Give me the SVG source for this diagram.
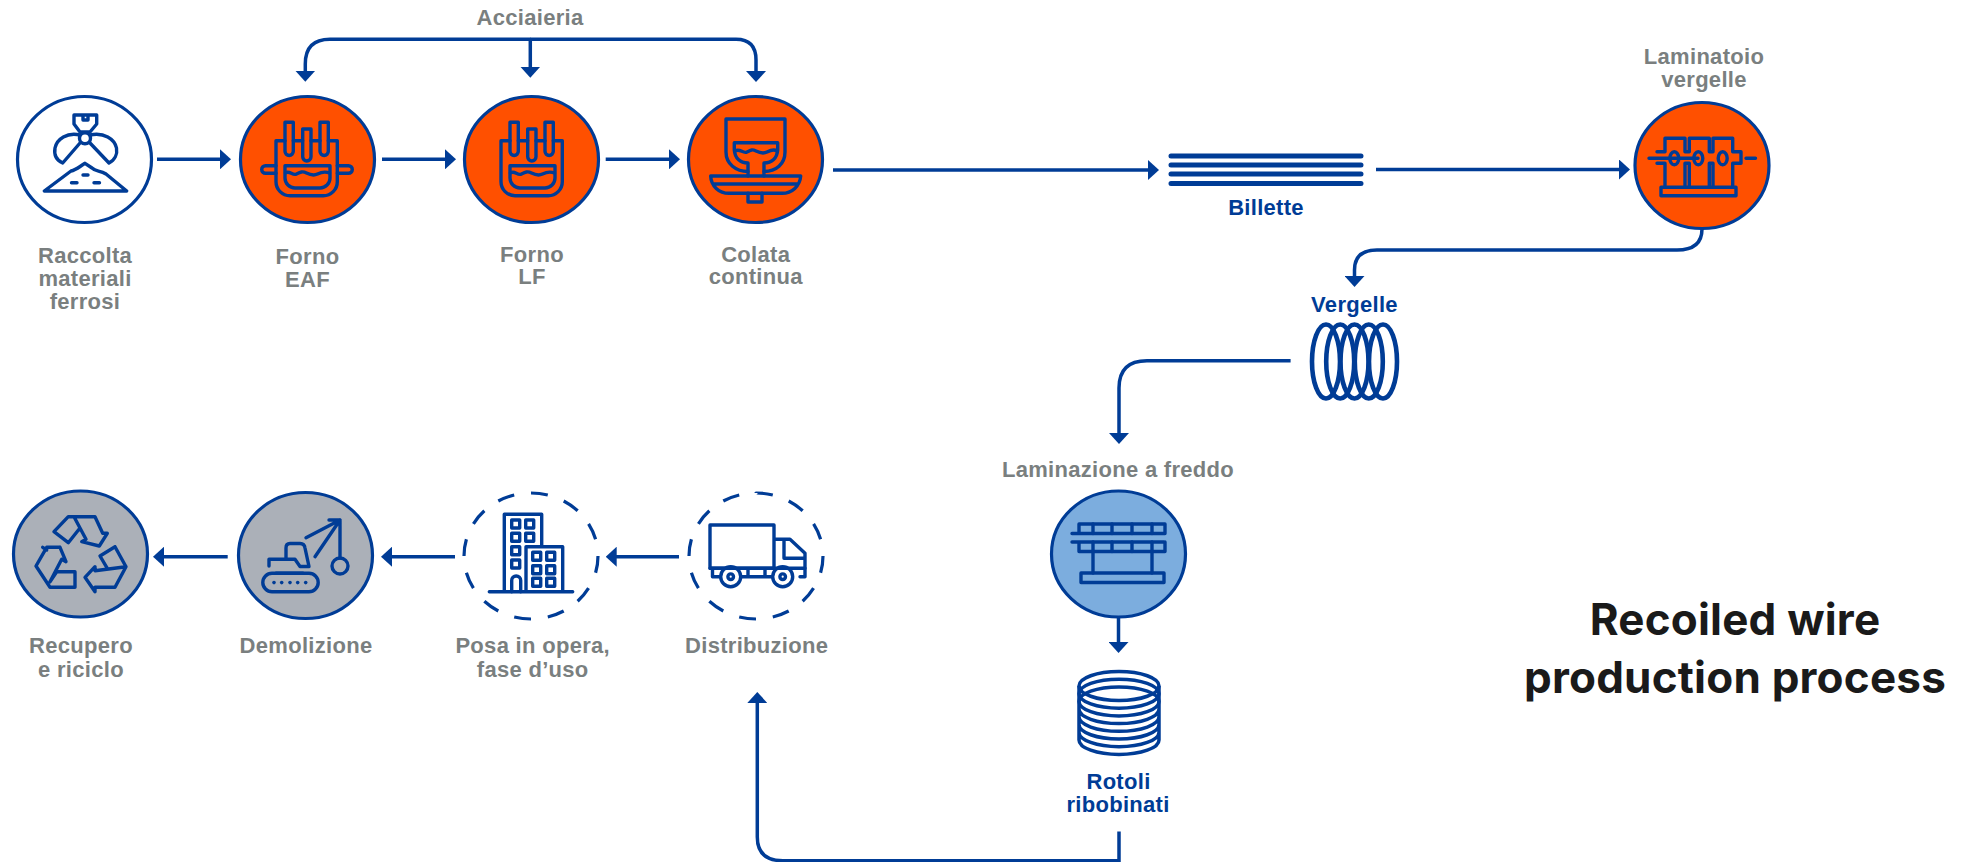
<svg xmlns="http://www.w3.org/2000/svg" width="1962" height="862" viewBox="0 0 1962 862">
<style>
.bg{fill:#fff}
.c{stroke:#003c96;stroke-width:3.5;fill:none}
.n{stroke:#003c96;stroke-width:3.2}
.o{fill:#ff5000}.w{fill:#fff}.g{fill:#abb0b8}.b{fill:#7cadde}
.d{fill:none;stroke:#003c96;stroke-width:3.2;stroke-dasharray:1 1}
.i{fill:none;stroke:#003c96;stroke-width:3.4;stroke-linejoin:round;stroke-linecap:round}
.t{font-family:"Liberation Sans",Arial,sans-serif;font-weight:700;font-size:22px;letter-spacing:.3px;text-anchor:middle;fill:#7a7f7f}
.tb{fill:#003c96}
.h{font-family:Inter,"Liberation Sans",sans-serif;font-weight:700;font-size:44px;letter-spacing:.2px;text-anchor:middle;fill:#1a1a1a}
</style>
<defs>
<marker id="a" viewBox="0 0 11 20" refX="1" refY="10" markerWidth="11" markerHeight="20" markerUnits="userSpaceOnUse" orient="auto"><path d="M0,0L11,10L0,20Z" fill="#003c96"/></marker>
<g id="furnace">
<path d="M9,0V29a4.150,4.150 0 0 0 8.300,0V0ZM26.700,6.700V34.500a4.150,4.150 0 0 0 8.300,0V6.700ZM44,0V29a4.150,4.150 0 0 0 8.300,0V0Z"/>
<path d="M9,18.400H0V59.400a14,14 0 0 0 14,14H47.300a14,14 0 0 0 14-14V18.400H52.300M17.300,18.400H26.700M35,18.400H44"/>
<path d="M9,43.400H54V55.700a10,10 0 0 1-10,10H19a10,10 0 0 1-10-10Z"/>
<path d="M9.500,50.700c4,-3 7,3 11,1s6,-3 10,-1s7,3 11,1s7,-3 12,-1"/>
</g>
</defs>
<rect class="bg" width="1962" height="862"/>
<g id="connectors" class="connectors">
<path class="c" marker-end="url(#a)" d="M157,159.300H221"/>
<path class="c" marker-end="url(#a)" d="M382,159.300H446"/>
<path class="c" marker-end="url(#a)" d="M605.700,159.300H670"/>
<path class="c" marker-end="url(#a)" d="M530.500,39.300H330Q305.300,39.300 305.300,64V71.700"/>
<path class="c" marker-end="url(#a)" d="M530.300,39.300V67.700"/>
<path class="c" marker-end="url(#a)" d="M530,39.300H736Q756,39.300 756,60V72"/>
<path class="c" marker-end="url(#a)" d="M833,170H1149"/>
<path class="c" marker-end="url(#a)" d="M1376,169.500H1620"/>
<path class="c" marker-end="url(#a)" d="M1702,229Q1702,250 1677,250H1377Q1354.500,250 1354.500,270V277"/>
<path class="c" marker-end="url(#a)" d="M1290.600,360.700H1147Q1119,360.700 1119,388V434"/>
<path class="c" marker-end="url(#a)" d="M1118.500,618V643"/>
<path class="c" marker-end="url(#a)" d="M1119,831.500V860.700H783Q757.300,860.700 757.300,837V702"/>
<path class="c" marker-end="url(#a)" d="M679,556.700H615.700"/>
<path class="c" marker-end="url(#a)" d="M455,556.700H391"/>
<path class="c" marker-end="url(#a)" d="M227.700,556.700H163"/>
</g>
<text id="acciaieria" class="t" x="530" y="24.700">Acciaieria</text>
<g id="raccolta">
<ellipse class="n w" cx="84.500" cy="159.500" rx="67" ry="63"/>
<path class="i" d="M74,115H96.700V124L90,132H80L74,124ZM83,115V120H88V115"/>
<circle class="i" cx="85" cy="138.300" r="5.500"/>
<path class="i" d="M80,143L62.700,163C56,160 54,154 55,148C57,139 67,132 80,135"/>
<path class="i" d="M90,143L109,163C115,160 117.500,154 116.500,148C114.500,139 104,132 90,135"/>
<path class="i" d="M44.300,191H126.700L106,174C100,170 96,172 92,168L85,163.300C79,167 76,170 71,171Z"/>
<path class="i" d="M83,175H88M71.500,182.700H77M94,182.700H99.500"/>
<text class="t" x="85" y="262.700">Raccolta</text>
<text class="t" x="85" y="285.700">materiali</text>
<text class="t" x="85" y="308.500">ferrosi</text>
</g>
<g id="forno-eaf">
<ellipse class="n o" cx="307.500" cy="159.500" rx="67" ry="63"/>
<use class="i" href="#furnace" x="276" y="122.300"/>
<path class="i" d="M276,165.700H265.500a3.800,3.800 0 0 0 0,7.600H276M337.300,165.700H348.500a3.800,3.800 0 0 1 0,7.600H337.300"/>
<text class="t" x="307.500" y="264">Forno</text>
<text class="t" x="307.500" y="286.700">EAF</text>
</g>
<g id="forno-lf">
<ellipse class="n o" cx="531.500" cy="159.500" rx="67" ry="63"/>
<use class="i" href="#furnace" x="501" y="122.300"/>
<text class="t" x="532" y="261.700">Forno</text>
<text class="t" x="532" y="284">LF</text>
</g>
<g id="colata">
<ellipse class="n o" cx="755.500" cy="159.500" rx="67" ry="63"/>
<path class="i" d="M726,119H785V152C785,164 776,171.500 764,171.500V176M726,119V152C726,164 736,171.500 748,171.500V176"/>
<path class="i" d="M734.300,142.700H777.700V150C777,158 772,163 764,163V171.500M734.300,142.700V150C735,158 740,163 748,163V171.500"/>
<path class="i" d="M735,151c5,-3 8,3 12,1s5,-3 9,-1s7,3 11,1s7,-3 10,-1"/>
<path class="i" d="M710.700,176H800.700C800,186 792,193.300 782,193.300H729C719,193.300 711,186 710.700,176ZM713,184H798"/>
<path class="i" d="M748,193.300V202H762V193.300"/>
<text class="t" x="755.700" y="261.700">Colata</text>
<text class="t" x="755.700" y="284">continua</text>
</g>
<g id="billette">
<path d="M1171,156H1361M1171,165H1361M1171,174H1361M1171,183.500H1361" fill="none" stroke="#003c96" stroke-width="5" stroke-linecap="round"/>
<text class="t tb" x="1266" y="215">Billette</text>
</g>
<g id="laminatoio">
<ellipse class="n o" cx="1702" cy="165.500" rx="67" ry="63"/>
<path class="i" d="M1657,151.700H1665V138.300H1685V151.700H1689.300V138.300H1709.300V151.700H1713V138.300H1732.700V151.700H1741V163.300H1732.700V187.300M1657,163.300H1665V187.300M1685,187.300V163.300H1689.300V187.300M1709.300,187.300V163.300H1713V187.300"/>
<path class="i" d="M1649,158.300H1698M1746,158.300H1755.500"/>
<rect class="i" x="1661" y="187.300" width="75" height="8.400"/>
<g class="i"><ellipse cx="1674.300" cy="158.300" rx="4.500" ry="6.500"/><ellipse cx="1698.300" cy="158.300" rx="4.500" ry="6.500"/><ellipse cx="1722.700" cy="158.300" rx="4.500" ry="6.500"/></g>
<text class="t" x="1704" y="64">Laminatoio</text>
<text class="t" x="1704" y="86.700">vergelle</text>
</g>
<g id="vergelle">
<text class="t tb" x="1354.500" y="312">Vergelle</text>
<g fill="none" stroke="#003c96" stroke-width="4.600"><ellipse cx="1326" cy="361.500" rx="14" ry="37"/><ellipse cx="1340.200" cy="361.500" rx="14" ry="37"/><ellipse cx="1354.500" cy="361.500" rx="14" ry="37"/><ellipse cx="1368.800" cy="361.500" rx="14" ry="37"/><ellipse cx="1383" cy="361.500" rx="14" ry="37"/></g>
</g>
<g id="laminazione">
<text class="t" x="1118" y="476.700">Laminazione a freddo</text>
<ellipse class="n b" cx="1118.500" cy="554" rx="67" ry="63"/>
<path class="i" d="M1072,533.500H1164M1072,542H1164M1079,533.500V524H1165V533.500M1079,542V551.500H1165V542"/>
<path class="i" d="M1093,524V533.500M1112,524V533.500M1132,524V533.500M1152,524V533.500M1093,542V551.500M1112,542V551.500M1132,542V551.500M1152,542V551.500"/>
<path class="i" d="M1093,551.500V573M1152,551.500V573"/>
<rect class="i" x="1081" y="573" width="83" height="9.500"/>
</g>
<g id="rotoli">
<g fill="none" stroke="#003c96" stroke-width="3.500"><ellipse cx="1119" cy="686" rx="40" ry="14.500"/><ellipse cx="1119" cy="693.700" rx="40" ry="14.500"/><ellipse cx="1119" cy="701.400" rx="40" ry="14.500"/>
<path d="M1079,709.100a40,14.500 0 0 0 80,0M1079,716.800a40,14.500 0 0 0 80,0M1079,724.500a40,14.500 0 0 0 80,0M1079,732.200a40,14.500 0 0 0 80,0M1079,739.900a40,14.500 0 0 0 80,0M1079,686V740M1159,686V740"/></g>
<text class="t tb" x="1118.500" y="789">Rotoli</text>
<text class="t tb" x="1118" y="812">ribobinati</text>
</g>
<g id="distribuzione">
<ellipse class="d" pathLength="24" cx="756" cy="556" rx="67" ry="63"/>
<path class="i" d="M710,525H774V568.300H710ZM774,539.300H790L805,553.300V576.700H800M784,540.500V558.300H804"/>
<path class="i" d="M712.500,569V576.700H720M741,576.700H772M710,568.300H805M748,569V576.700M765,569V576.700"/>
<circle class="i" cx="730.700" cy="576.700" r="10"/><circle class="i" cx="730.700" cy="576.700" r="2.800"/>
<circle class="i" cx="782.700" cy="576.700" r="10"/><circle class="i" cx="782.700" cy="576.700" r="2.800"/>
<text class="t" x="756.700" y="653">Distribuzione</text>
</g>
<g id="posa">
<ellipse class="d" pathLength="24" cx="531" cy="556" rx="67" ry="63"/>
<path class="i" d="M504.300,591.700V514.300H541.700V546.700M526,591.700V546.700H562.700V591.700M489.300,591.700H572.700"/>
<path class="i" d="M511.700,520h8v8h-8zM525.700,520h8v8h-8zM511.700,533.300h8v8h-8zM525.700,533.300h8v8h-8zM511.700,546.700h8v8h-8zM511.700,560h8v8h-8zM532.700,552.300h8v8h-8zM546.700,552.300h8v8h-8zM532.700,565.700h8v8h-8zM546.700,565.700h8v8h-8zM532.700,578.300h8v8h-8zM546.700,578.300h8v8h-8z"/>
<path class="i" d="M511.700,591.700V580.500a4.500,4.500 0 0 1 9,0V591.700"/>
<text class="t" x="532.700" y="653">Posa in opera,</text>
<text class="t" x="532.700" y="676.600">fase d’uso</text>
</g>
<g id="demolizione">
<ellipse class="n g" cx="305.500" cy="555.500" rx="67" ry="63"/>
<path class="i" d="M272,573.300H309a9.200,9.200 0 0 1 0,18.400H272a9.200,9.200 0 0 1 0,-18.400Z"/>
<path class="i" d="M269,566V559.300H295L300,566.500H309M286,559.300V548Q286,543.500 290,543.500H300Q304.500,543.500 305,548L309,566.500M276,573.300H303"/>
<path class="i" d="M306,537.700L340,520M315,556.700L340,520M329,520H340V558"/>
<circle class="i" cx="340" cy="566" r="8"/>
<g fill="#003c96"><circle cx="274" cy="582.600" r="1.800"/><circle cx="281.700" cy="582.600" r="1.800"/><circle cx="290" cy="582.600" r="1.800"/><circle cx="297.700" cy="582.600" r="1.800"/><circle cx="305.700" cy="582.600" r="1.800"/></g>
<text class="t" x="306" y="653.300">Demolizione</text>
</g>
<g id="recupero">
<ellipse class="n g" cx="80.500" cy="554" rx="67" ry="63"/>
<path class="i" d="M74,516.700H95L102.700,533.300H107.300L99.300,546L81.700,541.700L86,539.300ZM74,516.700H68.300L54,531.700L68.300,542.700L79,529.300"/>
<path class="i" d="M115,546.700L126,566.700L115,587.300H95V591.700L85,577.300L95,566.700V570.700L126,566.700M115,546.700L100,556L107.300,568.300"/>
<path class="i" d="M60,547.300H46.700L36,566L50,587.300H75V571.700H56.700L50,581.700M42.700,547.300L46.700,550M60,547.300L66,561.700L61.700,559.300L50,581.700"/>
<text class="t" x="81" y="653.300">Recupero</text>
<text class="t" x="81" y="676.700">e riciclo</text>
</g>
<g id="title">
<text class="h" x="1735" y="635">Recoiled wire</text>
<text class="h" x="1735" y="692.700">production process</text>
</g>
</svg>
